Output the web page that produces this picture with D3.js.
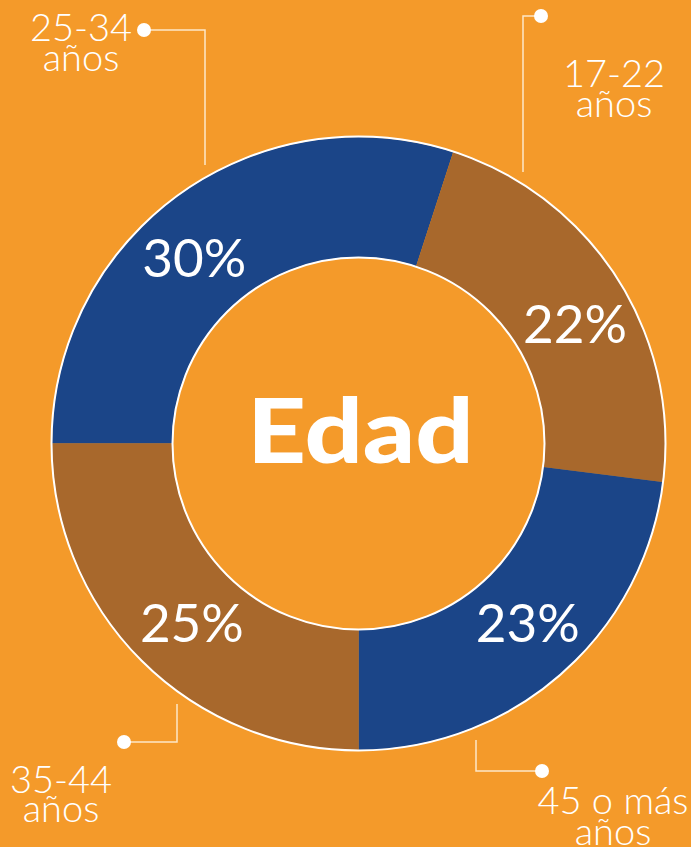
<!DOCTYPE html>
<html>
<head>
<meta charset="utf-8">
<script src="https://cdn.jsdelivr.net/npm/d3@7"></script>
<style>
  html, body { margin: 0; padding: 0; background: #f49a2a; }
  svg { display: block; }
</style>
</head>
<body>
<svg id="chart" width="691" height="847"></svg>
<script>
// Edad - donut
const categories = ["25-34 años", "17-22 años", "45 o más años", "35-44 años"];
const values = [30, 22, 23, 25];
const labelLines = [["25-34", "años"], ["17-22", "años"], ["45 o más", "años"], ["35-44", "años"]];
const centerTitle = "Edad";

const COLOR = { bg: "#f49a2a", blue: "#1b4588", brown: "#a8682c", line: "#fde7c8" };
const sliceColors = [COLOR.blue, COLOR.brown, COLOR.blue, COLOR.brown];

const width = 691, height = 847;
const cx = 358.5, cy = 443.5;
const outerR = 306.5, innerR = 186.5;

const svg = d3.select("#chart");
svg.append("rect").attr("width", width).attr("height", height).attr("fill", COLOR.bg);

const g = svg.append("g").attr("transform", "translate(" + cx + "," + cy + ")");

const pie = d3.pie().sort(null).value(d => d).startAngle(-Math.PI / 2).endAngle(1.5 * Math.PI);
const arc = d3.arc().innerRadius(innerR).outerRadius(outerR);
const arcs = pie(values);

g.selectAll(".slice")
  .data(arcs)
  .enter()
  .append("path")
  .attr("class", "slice")
  .attr("d", arc)
  .attr("fill", (d, i) => sliceColors[i]);

// white rims
g.append("circle").attr("r", outerR + 0.5).attr("fill", "none").attr("stroke", "#fff").attr("stroke-width", 2);
g.append("circle").attr("r", innerR - 0.5).attr("fill", "none").attr("stroke", "#fff").attr("stroke-width", 2);

// percentage labels (centroid + nudge to baseline)
const pctNudge = [[-19, 33], [8, 32], [6, 13], [8, 24]];
const labelArc = d3.arc().innerRadius(247).outerRadius(247);
g.selectAll(".pct")
  .data(arcs)
  .enter()
  .append("text")
  .attr("class", "pct")
  .attr("x", (d, i) => labelArc.centroid(d)[0] + pctNudge[i][0])
  .attr("y", (d, i) => labelArc.centroid(d)[1] + pctNudge[i][1])
  .attr("text-anchor", "middle")
  .attr("fill", "#fff")
  .style("font-family", "Lato, sans-serif")
  .style("font-size", "53px")
  .text(d => d.data + "%");

// center title
g.append("text")
  .attr("transform", "translate(2,19) scale(1.15,1)")
  .attr("text-anchor", "middle")
  .attr("fill", "#fff")
  .style("font-family", "Lato, sans-serif")
  .style("font-weight", 900)
  .style("font-size", "89px")
  .text(centerTitle);

// callouts: dot, elbow line, label
const callouts = [
  { dot: [144, 30], path: [[144, 30], [205, 30], [205, 165]], text: [81, 41], gap: 30 },
  { dot: [541, 16], path: [[541, 16], [523, 16], [523, 172]], text: [614, 87], gap: 30 },
  { dot: [542, 771], path: [[542, 771], [476, 771], [476, 740]], text: [613, 814], gap: 31 },
  { dot: [124, 742], path: [[124, 742], [177, 742], [177, 704]], text: [61, 793], gap: 29 }
];

const line = d3.line();
const co = svg.selectAll(".callout")
  .data(callouts)
  .enter()
  .append("g")
  .attr("class", "callout");

co.append("path")
  .attr("d", d => line(d.path))
  .attr("fill", "none")
  .attr("stroke", COLOR.line)
  .attr("stroke-width", 1.5);

co.append("circle")
  .attr("cx", d => d.dot[0])
  .attr("cy", d => d.dot[1])
  .attr("r", 7)
  .attr("fill", "#fff");

co.each(function (d, i) {
  const t = d3.select(this).append("text")
    .attr("text-anchor", "middle")
    .attr("fill", "#fff")
    .style("font-family", "Lato, sans-serif")
    .style("font-weight", 300)
    .style("font-size", "38px");
  labelLines[i].forEach((s, k) => {
    t.append("tspan")
      .attr("x", d.text[0])
      .attr("y", d.text[1] + k * d.gap)
      .text(s);
  });
});
</script>
</body>
</html>
